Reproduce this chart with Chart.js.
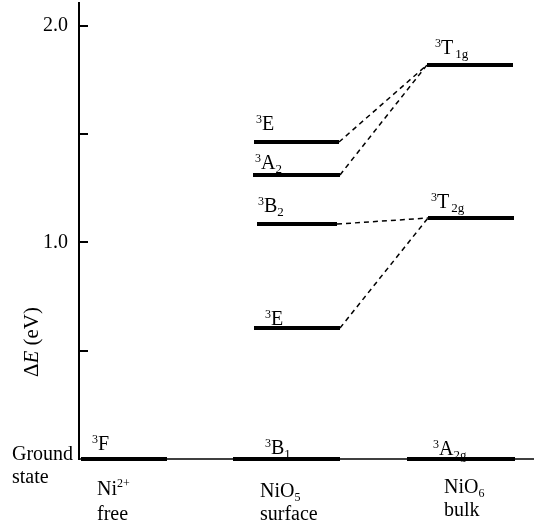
<!DOCTYPE html>
<html>
<head>
<meta charset="utf-8">
<script src="https://cdn.jsdelivr.net/npm/chart.js@4.4.1/dist/chart.umd.min.js"></script>
<style>
  html, body { margin: 0; padding: 0; background: #fff; }
  #wrap { width: 534px; height: 529px; }
</style>
</head>
<body>
<div id="wrap"><canvas id="levels" width="534" height="529"></canvas></div>
<script>
// Ni2+ term levels: free ion / NiO5 surface / NiO6 bulk
const levelSup = ['3', '3', '3', '3', '3', '3', '3', '3', '3'];
const levelMain = ['F', 'B', 'E', 'B', 'A', 'E', 'A', 'T', 'T'];
const levelSub = ['', '1', '', '2', '2', '', '2g', '2g', '1g'];
const levelEnergy = [0, 0, 0.605, 1.085, 1.312, 1.464, 0, 1.113, 1.82];
const levelFrom = [0.02, 1.54, 1.75, 1.78, 1.74, 1.75, 3.28, 3.49, 3.48];
const levelTo = [0.88, 2.61, 2.61, 2.58, 2.61, 2.60, 4.36, 4.35, 4.34];

// dashed correlation lines (index into the level arrays)
const linkFrom = [5, 4, 3, 2];
const linkTo = [8, 8, 7, 7];

// columns under the diagram
const columnName = ['Ni', 'NiO', 'NiO'];
const columnScript = ['2+', '5', '6'];
const columnKind = ['free', 'surface', 'bulk'];

const yTicks = [0.5, 1.0, 1.5, 2.0];
const yLabels = ['1.0', '2.0'];

// layout only (pixels)
const FONT = '"Liberation Serif", "Times New Roman", serif';
const labelOffset = [[11, -9], [32, -5], [11, -3], [1, -12], [2, -6], [2, -12], [26, -4], [3, -10], [8, -11]];
const columnPos = [[97, 495, 520], [260, 497, 520], [444, 493, 516]];

function font(size, italic) {
  return (italic ? 'italic ' : '') + size + 'px ' + FONT;
}

function drawRich(ctx, x, y, parts) {
  parts.forEach(p => {
    if (!p.t) return;
    ctx.font = font(p.size, p.italic);
    ctx.fillText(p.t, x, y + (p.dy || 0));
    x += ctx.measureText(p.t).width + (p.gap || 0);
  });
  return x;
}

function richWidth(ctx, parts) {
  let w = 0;
  parts.forEach(p => {
    ctx.font = font(p.size, p.italic);
    w += ctx.measureText(p.t).width;
  });
  return w;
}

const datasets = [];
levelEnergy.forEach((e, i) => {
  datasets.push({
    data: [{ x: levelFrom[i], y: e }, { x: levelTo[i], y: e }],
    borderColor: '#000',
    borderWidth: 4,
    borderCapStyle: 'butt',
    pointRadius: 0,
    clip: false,
    order: 1
  });
});
linkFrom.forEach((a, k) => {
  const b = linkTo[k];
  datasets.push({
    data: [{ x: levelTo[a], y: levelEnergy[a] }, { x: levelFrom[b], y: levelEnergy[b] }],
    borderColor: '#000',
    borderWidth: 1.5,
    borderDash: [5, 4],
    pointRadius: 0,
    clip: false,
    order: 2
  });
});
// ground-state baseline
datasets.push({
  data: [{ x: 0, y: 0 }, { x: 4.55, y: 0 }],
  borderColor: '#000',
  borderWidth: 1.5,
  pointRadius: 0,
  clip: false,
  order: 10
});

const textPlugin = {
  id: 'levelText',
  afterDraw(chart) {
    const ctx = chart.ctx;
    const xs = chart.scales.x;
    const ys = chart.scales.y;
    ctx.save();
    ctx.fillStyle = '#000';
    ctx.strokeStyle = '#000';
    ctx.textAlign = 'left';
    ctx.textBaseline = 'alphabetic';

    // inward tick marks
    ctx.lineWidth = 2;
    yTicks.forEach(v => {
      const py = Math.round(ys.getPixelForValue(v));
      ctx.beginPath();
      ctx.moveTo(xs.left, py);
      ctx.lineTo(xs.left + 9, py);
      ctx.stroke();
    });

    // term symbols
    levelEnergy.forEach((e, i) => {
      const px = xs.getPixelForValue(levelFrom[i]) + labelOffset[i][0];
      const py = ys.getPixelForValue(e) + labelOffset[i][1];
      drawRich(ctx, px, py, [
        { t: levelSup[i], size: 12, dy: -7 },
        { t: levelMain[i], size: 20, gap: levelMain[i] === 'T' ? 2 : 0 },
        { t: levelSub[i], size: 13, dy: 4 }
      ]);
    });

    // column names
    columnName.forEach((n, i) => {
      const [cx, y1, y2] = columnPos[i];
      const sup = i === 0;
      drawRich(ctx, cx, y1, [
        { t: n, size: 20 },
        { t: columnScript[i], size: 12, dy: sup ? -8 : 4 }
      ]);
      ctx.font = font(20);
      ctx.fillText(columnKind[i], cx, y2);
    });

    // ground state
    ctx.font = font(20);
    ctx.fillText('Ground', 12, 460);
    ctx.fillText('state', 12, 483);

    // axis title, rotated
    const title = [
      { t: '\u0394', size: 21 },
      { t: 'E', size: 21, italic: true },
      { t: ' (eV)', size: 21 }
    ];
    ctx.translate(32, 342);
    ctx.rotate(-Math.PI / 2);
    ctx.textBaseline = 'middle';
    drawRich(ctx, -richWidth(ctx, title) / 2, 0, title);
    ctx.restore();
  }
};

new Chart(document.getElementById('levels'), {
  type: 'line',
  data: { datasets },
  options: {
    responsive: false,
    animation: false,
    devicePixelRatio: 1,
    layout: { padding: { top: 3, right: 0, bottom: 70, left: 0 } },
    plugins: { legend: { display: false }, tooltip: { enabled: false } },
    scales: {
      x: { type: 'linear', min: 0, max: 4.55, display: false },
      y: {
        type: 'linear',
        min: 0,
        max: 2.106,
        grid: { display: false, drawTicks: false },
        border: { display: true, color: '#000', width: 2 },
        ticks: {
          stepSize: 0.5,
          padding: 11,
          color: '#000',
          font: { family: FONT, size: 20 },
          callback: v => yLabels.includes(v.toFixed(1)) && Math.abs(v - Math.round(v)) < 1e-6 ? v.toFixed(1) : ''
        },
        afterFit(scale) {
          scale.width = 79;
          scale.paddingTop = 0;
          scale.paddingBottom = 0;
        }
      }
    }
  },
  plugins: [textPlugin]
});
</script>
</body>
</html>
